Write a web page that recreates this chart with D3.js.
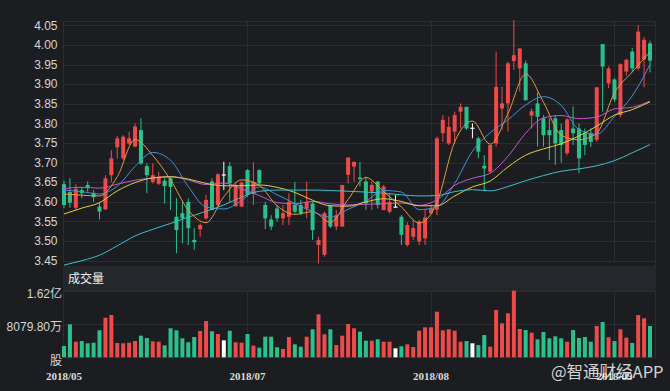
<!DOCTYPE html>
<html>
<head>
<meta charset="utf-8">
<script src="https://cdn.jsdelivr.net/npm/d3@7"></script>
<style>
  body { margin: 0; background: #1b1d21; }
  svg { display: block; font-family: "Liberation Sans", Arial, sans-serif; }
</style>
</head>
<body>
<svg></svg>
<script>
// daily candles
var opens = [3.645,3.625,3.585,3.630,3.643,3.623,3.588,3.581,3.668,3.739,
  3.711,3.749,3.741,3.783,3.691,3.651,3.646,3.654,3.660,3.562,
  3.571,3.600,3.503,3.530,3.558,3.652,3.592,3.670,3.691,3.589,
  3.588,3.681,3.620,3.681,3.592,3.555,3.583,3.558,3.562,3.592,
  3.592,3.583,3.596,3.490,3.465,3.590,3.537,3.537,3.669,3.690,
  3.662,3.652,3.626,3.652,3.579,3.575,3.588,3.562,3.490,3.511,
  3.499,3.507,3.571,3.580,3.775,3.749,3.779,3.830,3.842,3.789,
  3.762,3.692,3.677,3.749,3.838,3.851,3.959,3.940,3.953,3.820,
  3.851,3.813,3.783,3.813,3.783,3.724,3.787,3.787,3.775,3.775,
  3.758,4.002,3.902,3.912,3.821,3.932,3.983,3.940,3.963,4.004];
var highs = [3.654,3.660,3.645,3.638,3.652,3.630,3.600,3.668,3.732,3.768,
  3.770,3.779,3.800,3.813,3.698,3.698,3.677,3.660,3.664,3.609,
  3.600,3.609,3.533,3.545,3.618,3.660,3.673,3.702,3.701,3.647,
  3.652,3.683,3.701,3.683,3.600,3.566,3.592,3.592,3.622,3.651,
  3.605,3.651,3.600,3.511,3.575,3.592,3.579,3.643,3.713,3.702,
  3.702,3.664,3.652,3.652,3.643,3.622,3.617,3.566,3.549,3.554,
  3.554,3.579,3.592,3.766,3.821,3.817,3.830,3.851,3.842,3.800,
  3.766,3.719,3.745,3.983,3.893,3.957,4.063,3.991,3.960,3.838,
  3.879,3.821,3.813,3.821,3.800,3.813,3.843,3.800,3.787,3.787,
  3.892,4.002,3.945,3.915,3.953,3.965,3.992,4.050,4.020,4.011];
var lows = [3.584,3.585,3.578,3.609,3.626,3.600,3.555,3.579,3.651,3.711,
  3.707,3.745,3.739,3.694,3.622,3.647,3.643,3.596,3.579,3.469,
  3.494,3.490,3.477,3.511,3.554,3.579,3.588,3.630,3.600,3.588,
  3.586,3.613,3.592,3.645,3.530,3.528,3.550,3.541,3.541,3.571,
  3.566,3.558,3.503,3.443,3.460,3.533,3.528,3.537,3.647,3.651,
  3.639,3.579,3.579,3.583,3.579,3.571,3.586,3.490,3.486,3.503,
  3.490,3.490,3.571,3.566,3.753,3.745,3.749,3.787,3.783,3.762,
  3.711,3.630,3.673,3.740,3.783,3.779,3.936,3.881,3.859,3.787,
  3.741,3.741,3.707,3.694,3.700,3.719,3.745,3.673,3.719,3.740,
  3.753,3.830,3.890,3.855,3.815,3.922,3.932,3.935,3.892,3.930];
var closes = [3.592,3.598,3.633,3.622,3.635,3.612,3.575,3.660,3.711,3.762,
  3.766,3.762,3.792,3.698,3.668,3.668,3.664,3.640,3.638,3.528,
  3.558,3.533,3.497,3.541,3.605,3.579,3.670,3.670,3.647,3.643,
  3.649,3.618,3.651,3.647,3.558,3.537,3.558,3.571,3.600,3.575,
  3.571,3.600,3.528,3.503,3.571,3.537,3.566,3.643,3.713,3.702,
  3.658,3.596,3.643,3.592,3.639,3.600,3.588,3.516,3.541,3.533,
  3.550,3.560,3.583,3.762,3.809,3.791,3.821,3.842,3.787,3.789,
  3.728,3.685,3.745,3.893,3.851,3.953,3.974,3.991,3.859,3.831,
  3.817,3.770,3.770,3.749,3.745,3.810,3.775,3.711,3.745,3.753,
  3.892,3.945,3.940,3.861,3.951,3.962,3.940,4.034,4.013,3.960];
// volume in 万股
var volumes = [2740,8000,3790,3950,3400,3550,6550,9600,10260,3470,
  3400,3550,3950,5250,4680,3880,3790,2900,7040,6550,
  4610,3640,4930,6380,8810,6310,5650,4120,6450,3640,
  3550,5650,2820,2330,5000,5000,2430,2010,4930,3150,
  2570,5000,6790,10430,5580,6790,2980,5240,8080,7040,
  6210,4030,4030,4370,3790,3790,2180,2670,3150,2500,
  6450,7280,7280,11060,6550,6790,6450,3790,3950,3400,
  2980,5400,2570,11480,8250,10670,16160,6870,6620,5980,
  4370,6140,4610,5090,4610,3790,6620,4690,4930,3790,
  7600,8570,4850,3950,6790,4770,3470,10260,9460,7600];

// moving averages, read at every third candle
var maIdx = [0,3,6,9,12,15,18,21,24,27,30,33,36,39,42,45,48,51,54,57,60,63,66,69,72,75,78,81,84,87,90,93,96,99];
var ma5 = [3.620,3.617,3.615,3.664,3.759,3.718,3.656,3.579,3.547,3.613,3.656,3.642,3.590,3.568,3.575,3.548,3.606,
  3.662,3.626,3.587,3.546,3.598,3.753,3.806,3.747,3.825,3.926,3.854,3.770,3.758,3.775,3.878,3.931,3.982];
var ma10 = [3.630,3.626,3.620,3.640,3.690,3.726,3.706,3.639,3.587,3.582,3.603,3.638,3.618,3.596,3.575,3.561,3.581,
  3.602,3.629,3.625,3.580,3.587,3.647,3.729,3.776,3.809,3.847,3.868,3.846,3.784,3.772,3.818,3.870,3.950];
var ma20 = [3.634,3.637,3.635,3.645,3.655,3.661,3.664,3.656,3.644,3.648,3.633,3.616,3.598,3.595,3.601,3.595,3.592,
  3.594,3.595,3.597,3.591,3.605,3.642,3.660,3.673,3.716,3.775,3.814,3.820,3.812,3.816,3.837,3.841,3.857];
var ma30 = [3.569,3.584,3.598,3.628,3.649,3.661,3.664,3.658,3.647,3.641,3.641,3.643,3.637,3.624,3.604,3.590,3.589,
  3.600,3.608,3.601,3.590,3.590,3.615,3.638,3.653,3.689,3.719,3.735,3.748,3.768,3.793,3.821,3.835,3.855];
var ma60 = [3.439,3.450,3.464,3.488,3.513,3.530,3.545,3.561,3.576,3.592,3.612,3.627,3.630,3.630,3.630,3.629,3.627,
  3.625,3.622,3.618,3.615,3.616,3.626,3.631,3.628,3.639,3.654,3.667,3.678,3.684,3.692,3.705,3.725,3.746];
var maColors = ["#e89a3c", "#4a8fd6", "#c65ad0", "#e3cf3e", "#3fbfcf"];

var priceTicks = [4.05,4.00,3.95,3.90,3.85,3.80,3.75,3.70,3.65,3.60,3.55,3.50,3.45];
var volTicks = [16160, 8079.8, 0];
var volLabels = ["1.62亿", "8079.80万", "股"];
var dateIdx = [0, 31, 62, 93];
var dateLabels = ["2018/05", "2018/07", "2018/08", "2018/09"];

var width = 670, height = 391;
var upColor = "#ee4a4a", downColor = "#2bc18c", flatColor = "#ffffff";
var gridColor = "#2a2d33";

var svg = d3.select("svg").attr("width", width).attr("height", height);
svg.append("rect").attr("width", width).attr("height", height).attr("fill", "#1b1d21");

var x = d3.scalePoint().domain(d3.range(closes.length)).range([64, 650]);
var y = d3.scaleLinear().domain([3.45, 4.05]).range([260.7, 25.3]);
var yv = d3.scaleLinear().domain([0, 16160]).range([357.3, 290.7]);

function colorOf(i) {
  if (closes[i] > opens[i]) return upColor;
  if (closes[i] < opens[i]) return downColor;
  return flatColor;
}

// grid
var grid = svg.append("g").attr("stroke", gridColor).attr("stroke-width", 1);
grid.append("line").attr("x1", 63).attr("x2", 655).attr("y1", 21.5).attr("y2", 21.5);
priceTicks.forEach(function(t) {
  grid.append("line").attr("x1", 63).attr("x2", 655)
    .attr("y1", Math.round(y(t)) + 0.5).attr("y2", Math.round(y(t)) + 0.5);
});
volTicks.forEach(function(t) {
  grid.append("line").attr("x1", 63).attr("x2", 655)
    .attr("y1", Math.round(yv(t)) + 0.5).attr("y2", Math.round(yv(t)) + 0.5);
});
dateIdx.forEach(function(k) {
  var xx = Math.round(x(k)) + 0.5;
  if (k === 0) xx = 63.5;
  grid.append("line").attr("x1", xx).attr("x2", xx).attr("y1", 21.5).attr("y2", 262);
  grid.append("line").attr("x1", xx).attr("x2", xx).attr("y1", 291).attr("y2", 358);
});
grid.append("line").attr("x1", 655.5).attr("x2", 655.5).attr("y1", 21.5).attr("y2", 358);

// volume title band
svg.append("rect").attr("x", 63).attr("y", 266).attr("width", 593).attr("height", 25).attr("fill", "#24272c");
svg.append("text").attr("x", 68).attr("y", 282.5)
  .attr("fill", "#f2f2f2").attr("font-size", 12)
  .style("font-family", "'Noto Sans CJK SC', sans-serif")
  .text("成交量");

// axis labels
svg.append("g").selectAll("text").data(priceTicks).enter().append("text")
  .attr("x", 57.5).attr("y", function(d) { return y(d); }).attr("dy", "0.35em")
  .attr("text-anchor", "end").attr("font-size", 12).attr("fill", "#d6d6d6")
  .text(function(d) { return d.toFixed(2); });

svg.append("g").selectAll("text").data(volTicks).enter().append("text")
  .attr("x", 62).attr("y", function(d) { return yv(d) + 3; }).attr("dy", "0.35em")
  .attr("text-anchor", "end").attr("font-size", 12).attr("fill", "#d6d6d6")
  .style("font-family", "'Liberation Sans', 'Noto Sans CJK SC', sans-serif")
  .text(function(d, i) { return volLabels[i]; });

svg.append("g").selectAll("text").data(dateIdx).enter().append("text")
  .attr("x", function(d) { return x(d); }).attr("y", 379.5)
  .attr("text-anchor", "middle").attr("font-size", 11).attr("fill", "#dcdcdc")
  .style("font-family", "'Liberation Serif', 'DejaVu Serif', serif")
  .style("font-weight", "bold")
  .text(function(d, i) { return dateLabels[i]; });

// candles
var candles = svg.append("g").selectAll("g").data(closes).enter().append("g");
candles.append("line")
  .attr("x1", function(d, i) { return x(i); })
  .attr("x2", function(d, i) { return x(i); })
  .attr("y1", function(d, i) { return y(highs[i]); })
  .attr("y2", function(d, i) { return y(lows[i]); })
  .attr("stroke", function(d, i) { return colorOf(i); })
  .attr("stroke-width", 1);
candles.append("rect")
  .attr("x", function(d, i) { return x(i) - 2; })
  .attr("width", 4)
  .attr("y", function(d, i) { return y(Math.max(opens[i], closes[i])); })
  .attr("height", function(d, i) { return Math.max(1.2, Math.abs(y(opens[i]) - y(closes[i]))); })
  .attr("fill", function(d, i) { return colorOf(i); });

// volume bars
svg.append("g").selectAll("rect").data(volumes).enter().append("rect")
  .attr("x", function(d, i) { return x(i) - 2; })
  .attr("width", 4)
  .attr("y", function(d) { return yv(d); })
  .attr("height", function(d) { return yv(0) - yv(d); })
  .attr("fill", function(d, i) { return colorOf(i); });

// moving average lines
var line = d3.line()
  .x(function(d) { return x(d[0]); })
  .y(function(d) { return y(d[1]); })
  .curve(d3.curveMonotoneX);
[ma5, ma10, ma20, ma30, ma60].forEach(function(s, j) {
  svg.append("path")
    .attr("d", line(maIdx.map(function(k, n) { return [k, s[n]]; })))
    .attr("fill", "none")
    .attr("stroke", maColors[j])
    .attr("stroke-width", 1);
});

// watermark
svg.append("text").attr("x", 551).attr("y", 378)
  .attr("font-size", 16.5).attr("fill", "rgba(255,255,255,0.82)")
  .style("font-family", "'Noto Sans CJK SC', sans-serif")
  .text("@智通财经APP");
</script>
</body>
</html>
